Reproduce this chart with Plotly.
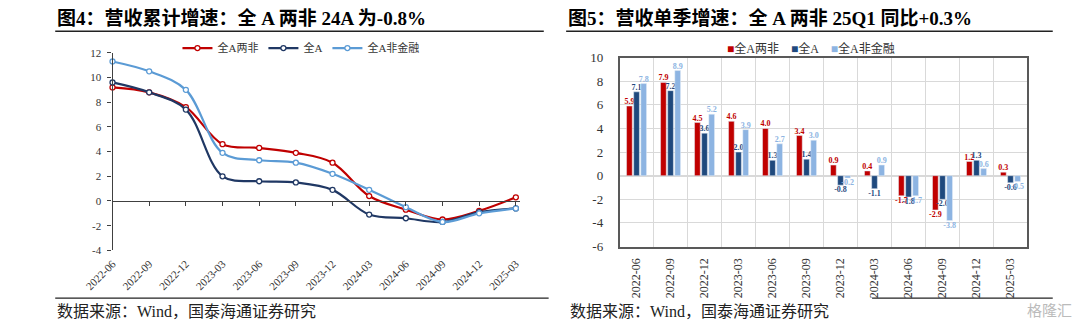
import plotly.graph_objects as go

# ---------------- data ----------------
dates = ["2022-06", "2022-09", "2022-12", "2023-03", "2023-06", "2023-09",
         "2023-12", "2024-03", "2024-06", "2024-09", "2024-12", "2025-03"]

# Fig 4: cumulative revenue growth (%)
cum_lf = [9.2, 8.8, 7.6, 4.6, 4.3, 3.9, 3.1, 0.4, -0.7, -1.5, -0.8, 0.3]      # 全A两非
cum_all = [9.6, 8.8, 7.4, 2.0, 1.6, 1.5, 0.9, -1.1, -1.4, -1.7, -0.9, -0.6]   # 全A
cum_nf = [11.3, 10.5, 9.0, 3.9, 3.3, 3.1, 2.2, 0.9, -0.5, -1.7, -1.0, -0.6]   # 全A非金融

# Fig 5: single-quarter revenue growth (%)
q_lf = [5.9, 7.9, 4.5, 4.6, 4.0, 3.4, 0.9, 0.4, -1.7, -2.9, 1.2, 0.3]
q_all = [7.1, 7.2, 3.6, 2.0, 1.3, 1.4, -0.8, -1.1, -1.8, -2.0, 1.3, -0.6]
q_nf = [7.8, 8.9, 5.2, 3.9, 2.7, 3.0, -0.2, 0.9, -1.7, -3.8, 0.6, -0.5]

# y tick labels (hyphen-minus as in the original)
left_yticks = [-4, -2, 0, 2, 4, 6, 8, 10, 12]
left_yticktext = ["-4", "-2", "0", "2", "4", "6", "8", "10", "12"]
right_yticks = [-6, -4, -2, 0, 2, 4, 6, 8, 10]
right_yticktext = ["-6", "-4", "-2", "0", "2", "4", "6", "8", "10"]

series_names = ["全A两非", "全A", "全A非金融"]
line_colors = ["#C00000", "#203864", "#5B9BD5"]
bar_colors = ["#C00000", "#1F497D", "#8DB4E2"]

title_left = "图4：营收累计增速：全 A 两非 24A 为-0.8%"
title_right = "图5：营收单季增速：全 A 两非 25Q1 同比+0.3%"
source_text = "数据来源：Wind，国泰海通证券研究"

# ---------------- figure ----------------
W, H = 1080, 329
FONT = "'Liberation Serif', 'Times New Roman', 'Noto Sans CJK SC', serif"
AX = "#404040"


def px(x):
    return x / W


def py(y):
    return 1 - y / H


fig = go.Figure()

for name, vals, col in zip(series_names, [cum_lf, cum_all, cum_nf], line_colors):
    fig.add_trace(go.Scatter(
        x=dates, y=vals, name=name, mode="lines+markers",
        line=dict(color=col, width=2.2, shape="spline", smoothing=1),
        marker=dict(symbol="circle", size=5, color="white",
                    line=dict(color=col, width=1.3)),
        xaxis="x", yaxis="y", legend="legend", cliponaxis=False,
    ))

# helper trace so the zero-crossing axis is drawn
fig.add_trace(go.Scatter(x=dates, y=[None] * len(dates), xaxis="x3", yaxis="y",
                         showlegend=False, hoverinfo="skip", mode="lines"))

for name, vals, col in zip(series_names, [q_lf, q_all, q_nf], bar_colors):
    fig.add_trace(go.Bar(
        x=dates, y=vals, name=name, marker_color=col,
        text=[f"{v:.1f}" for v in vals], textposition="outside",
        textfont=dict(color=col, size=8, family=FONT, weight="bold"),
        cliponaxis=False, constraintext="none",
        xaxis="x2", yaxis="y2", showlegend=False,
    ))

zero_pos = py(203)

fig.update_layout(
    width=W, height=H,
    margin=dict(l=0, r=0, t=0, b=0),
    paper_bgcolor="white", plot_bgcolor="white",
    font=dict(family=FONT, color="#333333", size=11),
    barmode="group", bargap=0.37, bargroupgap=0.2,
    showlegend=True,
    # left chart
    xaxis=dict(domain=[px(86), px(505)], type="category", categoryarray=dates,
               range=[0, 11.1], showline=False, ticks="", showgrid=False,
               zeroline=False, tickangle=-45, anchor="y",
               tickfont=dict(size=11, color="#333333"), ticklabelstandoff=4),
    xaxis3=dict(overlaying="x", type="category", categoryarray=dates,
                range=[0, 11.1], anchor="free", position=zero_pos,
                showline=True, linecolor=AX, linewidth=1.3,
                ticks="outside", ticklen=4, tickcolor=AX, tickwidth=1.3,
                showticklabels=False, showgrid=False, zeroline=False),
    yaxis=dict(domain=[py(255), py(48)], range=[-4, 12],
               tickvals=left_yticks, ticktext=left_yticktext,
               showline=True, linecolor=AX, linewidth=1.3,
               ticks="outside", ticklen=4, tickcolor=AX, tickwidth=1.3,
               showgrid=False, zeroline=False, anchor="x",
               tickfont=dict(size=11, color="#333333"), ticklabelstandoff=4),
    # right chart
    xaxis2=dict(domain=[px(608), px(1028)], type="category", categoryarray=dates,
                anchor="y2", showline=True, mirror=True, linecolor="#595959",
                linewidth=1.6, showgrid=True, gridcolor="#D9D9D9", gridwidth=1,
                tickson="boundaries", ticks="", tickangle=-90,
                tickfont=dict(size=12, color="#333333"), ticklabelstandoff=5),
    yaxis2=dict(domain=[py(251), py(53)], range=[-6, 10],
                tickvals=right_yticks, ticktext=right_yticktext,
                anchor="x2", showline=True, mirror=True, linecolor="#595959",
                linewidth=1.6, showgrid=True, gridcolor="#D9D9D9", gridwidth=1,
                zeroline=True, zerolinecolor="#D9D9D9", zerolinewidth=2,
                ticks="", tickfont=dict(size=13, color="#333333"),
                ticklabelstandoff=12),
    legend=dict(orientation="h", x=px(280), xanchor="center", y=py(43),
                yanchor="middle", font=dict(size=11, color="#333333"),
                bgcolor="rgba(0,0,0,0)", itemwidth=30, tracegroupgap=0),
)

# right-hand legend (square keys, compact as in the original)
sp = "&nbsp;" * 4
legend_right = sp.join(
    f"<span style='color:{c}'>■</span>{n}" for n, c in zip(series_names, bar_colors))
fig.add_annotation(text=legend_right, xref="paper", yref="paper", x=px(805), y=py(43),
                   xanchor="center", yanchor="middle", showarrow=False,
                   font=dict(size=12, color="#333333", family=FONT))

# titles, rules, footers
for x0, x1, title in [(27, 530, title_left), (553, 1054, title_right)]:
    fig.add_annotation(text=f"<b>{title}</b>", xref="paper", yref="paper",
                       x=px(x0), y=py(12), xanchor="left", yanchor="middle",
                       showarrow=False, font=dict(size=19, color="#000000", family=FONT))
    fig.add_shape(type="line", xref="paper", yref="paper", x0=px(x0), x1=px(x1),
                  y0=py(25.5), y1=py(25.5), line=dict(color="#222222", width=1.5))

for x0, x1, lx0 in [(27, 535, 27), (555, 1054, 868)]:
    fig.add_shape(type="line", xref="paper", yref="paper", x0=px(lx0), x1=px(x1),
                  y0=py(305), y1=py(305), line=dict(color="#222222", width=1.2))
    fig.add_annotation(text=source_text, xref="paper", yref="paper",
                       x=px(x0), y=py(319), xanchor="left", yanchor="middle",
                       showarrow=False, font=dict(size=16, color="#222222", family=FONT))

fig.add_annotation(text="格隆汇", xref="paper", yref="paper", x=px(1076), y=py(317),
                   xanchor="right", yanchor="middle", showarrow=False,
                   font=dict(size=15, color="#BBBBBB", family="Noto Sans CJK SC"))

fig.write_html("out.html")
